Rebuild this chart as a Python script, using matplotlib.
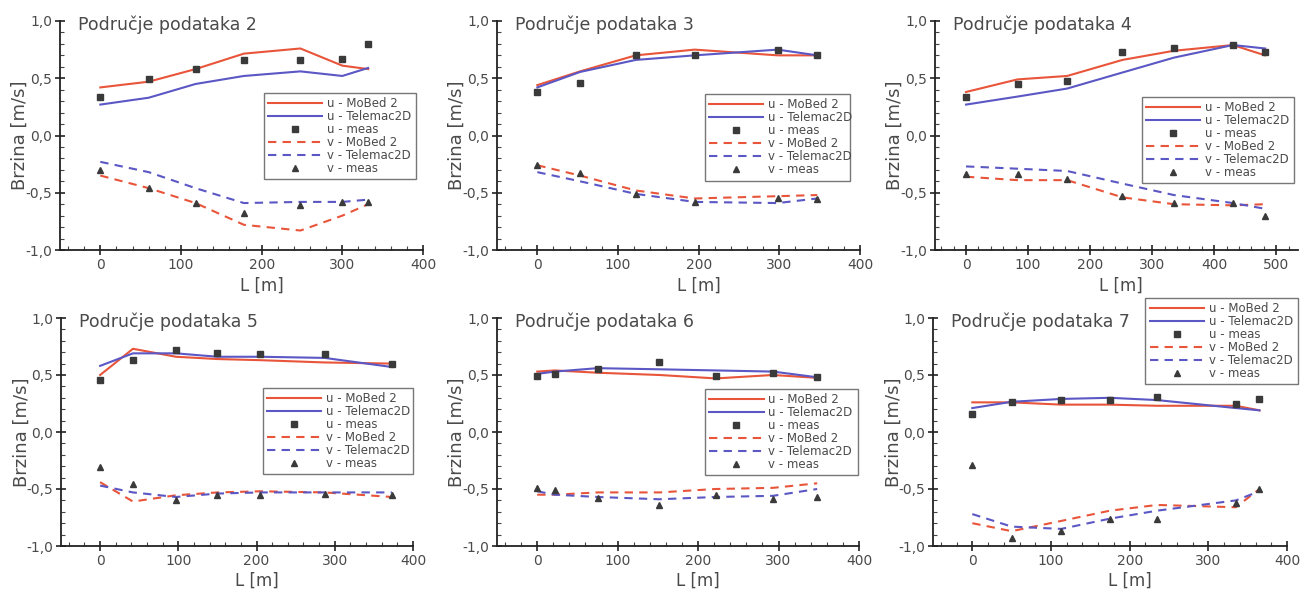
import matplotlib
matplotlib.use("Agg")
import matplotlib.pyplot as plt
from matplotlib.ticker import FuncFormatter, MultipleLocator
from matplotlib.lines import Line2D

plt.rcParams['font.family'] = ['DejaVu Sans']

# Data, one block per panel
titles = ["Područje podataka 2", "Područje podataka 3", "Područje podataka 4",
          "Područje podataka 5", "Područje podataka 6", "Područje podataka 7"]

L2 = [0, 60, 118, 178, 248, 300, 332]
u_mobed2 = [0.42, 0.47, 0.58, 0.715, 0.76, 0.61, 0.58]
u_tel2 = [0.27, 0.33, 0.45, 0.52, 0.56, 0.52, 0.59]
u_meas2 = [0.34, 0.49, 0.58, 0.66, 0.66, 0.665, 0.80]
v_mobed2 = [-0.35, -0.46, -0.59, -0.78, -0.83, -0.70, -0.60]
v_tel2 = [-0.23, -0.32, -0.46, -0.59, -0.58, -0.58, -0.56]
v_meas2 = [-0.30, -0.46, -0.59, -0.68, -0.61, -0.58, -0.58]

L3 = [0, 53, 122, 195, 298, 347]
u_mobed3 = [0.44, 0.56, 0.70, 0.75, 0.70, 0.70]
u_tel3 = [0.42, 0.555, 0.66, 0.70, 0.75, 0.70]
u_meas3 = [0.38, 0.46, 0.70, 0.70, 0.75, 0.70]
v_mobed3 = [-0.26, -0.35, -0.48, -0.55, -0.53, -0.52]
v_tel3 = [-0.32, -0.40, -0.51, -0.58, -0.59, -0.55]
v_meas3 = [-0.26, -0.33, -0.51, -0.58, -0.55, -0.555]

L4 = [0, 83, 163, 252, 335, 430, 482]
u_mobed4 = [0.38, 0.49, 0.52, 0.66, 0.74, 0.79, 0.70]
u_tel4 = [0.27, 0.34, 0.41, 0.55, 0.68, 0.79, 0.76]
u_meas4 = [0.34, 0.45, 0.48, 0.73, 0.76, 0.79, 0.73]
v_mobed4 = [-0.36, -0.39, -0.39, -0.54, -0.60, -0.61, -0.60]
v_tel4 = [-0.27, -0.29, -0.31, -0.42, -0.52, -0.59, -0.64]
v_meas4 = [-0.34, -0.34, -0.38, -0.53, -0.59, -0.59, -0.70]

L5 = [0, 42, 97, 150, 205, 287, 373]
u_mobed5 = [0.50, 0.73, 0.66, 0.64, 0.63, 0.61, 0.60]
u_tel5 = [0.58, 0.69, 0.69, 0.66, 0.66, 0.65, 0.57]
u_meas5 = [0.46, 0.63, 0.72, 0.69, 0.68, 0.685, 0.595]
v_mobed5 = [-0.44, -0.61, -0.555, -0.53, -0.52, -0.53, -0.57]
v_tel5 = [-0.47, -0.53, -0.57, -0.54, -0.53, -0.53, -0.53]
v_meas5 = [-0.31, -0.46, -0.60, -0.55, -0.55, -0.54, -0.55]

L6 = [0, 22, 75, 152, 222, 293, 348]
u_mobed6 = [0.53, 0.54, 0.52, 0.50, 0.47, 0.50, 0.475]
u_tel6 = [0.51, 0.53, 0.56, 0.55, 0.54, 0.53, 0.48]
u_meas6 = [0.49, 0.51, 0.55, 0.61, 0.49, 0.52, 0.48]
v_mobed6 = [-0.55, -0.55, -0.53, -0.53, -0.50, -0.49, -0.45]
v_tel6 = [-0.52, -0.55, -0.57, -0.59, -0.57, -0.56, -0.50]
v_meas6 = [-0.49, -0.51, -0.58, -0.64, -0.55, -0.59, -0.57]

L7 = [0, 50, 113, 175, 235, 335, 365]
u_mobed7 = [0.26, 0.26, 0.24, 0.24, 0.23, 0.23, 0.19]
u_tel7 = [0.21, 0.265, 0.29, 0.30, 0.28, 0.21, 0.19]
u_meas7 = [0.16, 0.265, 0.285, 0.28, 0.31, 0.25, 0.29]
v_mobed7 = [-0.80, -0.87, -0.78, -0.69, -0.64, -0.66, -0.50]
v_tel7 = [-0.72, -0.83, -0.85, -0.76, -0.69, -0.60, -0.52]
v_meas7 = [-0.29, -0.93, -0.87, -0.76, -0.76, -0.62, -0.50]

panels = [
    (L2, u_mobed2, u_tel2, u_meas2, v_mobed2, v_tel2, v_meas2),
    (L3, u_mobed3, u_tel3, u_meas3, v_mobed3, v_tel3, v_meas3),
    (L4, u_mobed4, u_tel4, u_meas4, v_mobed4, v_tel4, v_meas4),
    (L5, u_mobed5, u_tel5, u_meas5, v_mobed5, v_tel5, v_meas5),
    (L6, u_mobed6, u_tel6, u_meas6, v_mobed6, v_tel6, v_meas6),
    (L7, u_mobed7, u_tel7, u_meas7, v_mobed7, v_tel7, v_meas7),
]
x_max = [400, 400, 535, 400, 400, 400]
x_last_tick = [400, 400, 500, 400, 400, 400]
legend_labels = ["u - MoBed 2", "u - Telemac2D", "u - meas",
                 "v - MoBed 2", "v - Telemac2D", "v - meas"]

RED = '#e8553a'
BLUE = '#5b57c4'
MARK = '#3a3a3a'
TEXT = '#4a4a4a'

W, H = 1309, 592
fig = plt.figure(figsize=(W / 100, H / 100), dpi=100)

# axes boxes in pixels: left, top, width, height
boxes = [
    (60, 21, 363, 229), (497, 21, 363, 229), (935, 21, 363, 229),
    (61, 318, 352, 228), (497, 318, 362, 228), (933, 318, 354, 228),
]
# legend anchor (x0, y_top, width) in axes fraction
legend_boxes = [
    (0.562, 0.686, 0.419), (0.573, 0.680, 0.40), (0.57, 0.670, 0.42),
    (0.574, 0.693, 0.426), (0.575, 0.689, 0.422), (0.60, 1.088, 0.43),
]

comma = FuncFormatter(lambda v, p: f"{v:.1f}".replace('.', ','))

for i, (data, title) in enumerate(zip(panels, titles)):
    L, um, ut, umeas, vm, vt, vmeas = data
    l, t, w, h = boxes[i]
    ax = fig.add_axes([l / W, (H - t - h) / H, w / W, h / H])

    ax.plot(L, um, '-', color=RED, lw=1.5)
    ax.plot(L, ut, '-', color=BLUE, lw=1.5)
    ax.plot(L, umeas, 's', color=MARK, ms=4.5, ls='none')
    ax.plot(L, vm, '--', color=RED, lw=1.5, dashes=(4, 3))
    ax.plot(L, vt, '--', color=BLUE, lw=1.5, dashes=(4, 3))
    ax.plot(L, vmeas, '^', color=MARK, ms=5, ls='none')

    ax.set_xlim(-50, x_max[i])
    ax.set_ylim(-1.0, 1.0)
    ax.yaxis.set_major_locator(MultipleLocator(0.5))
    ax.yaxis.set_minor_locator(MultipleLocator(0.1))
    ax.xaxis.set_major_locator(MultipleLocator(100))
    ax.xaxis.set_minor_locator(MultipleLocator(20))
    ax.yaxis.set_major_formatter(comma)

    for side in ['top', 'right']:
        ax.spines[side].set_visible(False)
    for side in ['left', 'bottom']:
        ax.spines[side].set_color('#222222')
        ax.spines[side].set_linewidth(1.3)
    ax.tick_params(which='major', direction='inout', length=7, width=1.2,
                   colors='#222222', labelcolor=TEXT, labelsize=10, pad=2)
    ax.tick_params(which='minor', direction='in', length=3, width=0.8,
                   colors='#444444')

    ax.set_xlabel("L [m]", fontsize=12, color=TEXT)
    xc = (x_last_tick[i] / 2 + 50) / (x_max[i] + 50)
    ax.xaxis.set_label_coords(xc, -0.115)
    ax.set_ylabel("Brzina [m/s]", fontsize=13, color=TEXT)
    ax.yaxis.set_label_coords(-0.085, 0.5)
    ax.text(0.05, 0.985, title, transform=ax.transAxes, fontsize=12.5,
            color=TEXT, va='center', ha='left')

    handles = [
        Line2D([], [], color=RED, lw=1.5),
        Line2D([], [], color=BLUE, lw=1.5),
        Line2D([], [], color=MARK, marker='s', ms=4, ls='none'),
        Line2D([], [], color=RED, lw=1.5, ls='--', dashes=(4, 3)),
        Line2D([], [], color=BLUE, lw=1.5, ls='--', dashes=(4, 3)),
        Line2D([], [], color=MARK, marker='^', ms=4.5, ls='none'),
    ]
    lx, ly, lw_ = legend_boxes[i]
    leg = ax.legend(handles, legend_labels, loc='upper left',
                    bbox_to_anchor=(lx, ly, lw_, 0.0001), mode='expand',
                    fontsize=8.5, handlelength=4.6, handletextpad=0.4,
                    labelspacing=0.0, borderpad=0.35, fancybox=False,
                    framealpha=1, edgecolor='#777777', borderaxespad=0)
    leg.get_frame().set_linewidth(1.0)
    for txt in leg.get_texts():
        txt.set_color(TEXT)

fig.savefig("out.png", dpi=100)
